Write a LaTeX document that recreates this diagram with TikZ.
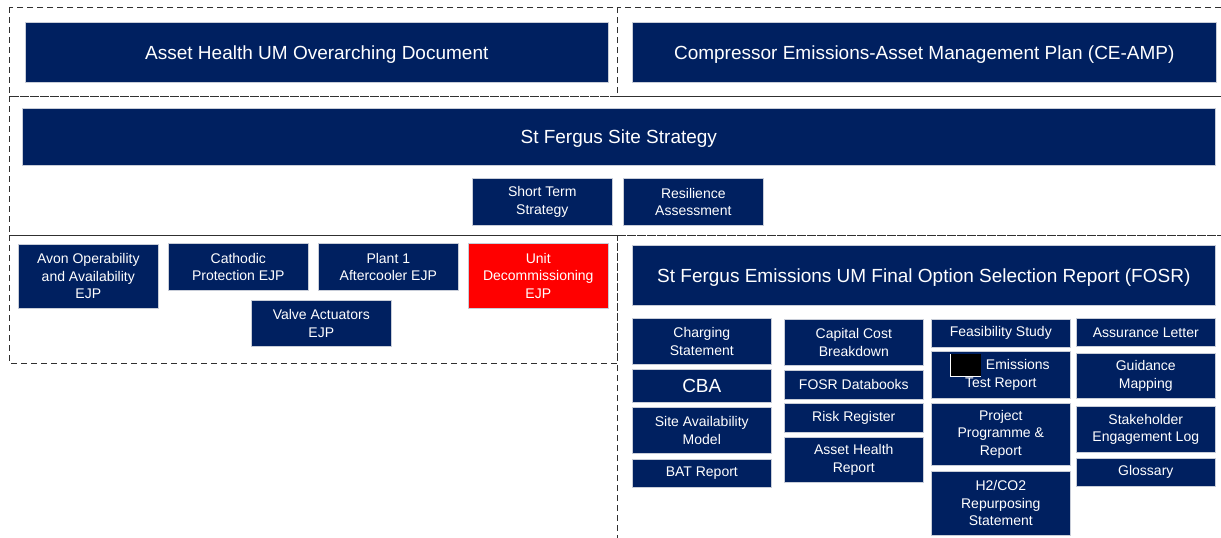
\documentclass[tikz,border=0pt]{standalone}
\usepackage{fontspec}
\setmainfont{Liberation Sans}
\definecolor{navy}{HTML}{002060}
\definecolor{redbox}{HTML}{FF0000}
\definecolor{edge}{HTML}{C8CDD8}
\definecolor{dashc}{HTML}{303030}
\tikzset{
  docbox/.style={rectangle, fill=navy, draw=edge, line width=0.6pt, text=white, align=center, inner sep=0pt,
    font=\fontsize{14}{17.5}\selectfont},
  bigbox/.style={docbox, text depth=0pt, font=\fontsize{19}{22}\selectfont},
  hotbox/.style={docbox, fill=redbox},
  region/.style={draw=dashc, line width=1pt, dash pattern=on 6pt off 4pt},
}
\newcommand\mkbox[7]{\node[#1, anchor=north west, minimum width={#5pt-#3pt}, minimum height={#6pt-#4pt}] (#2) at (#3,#4) {#7};}
\begin{document}
\begin{tikzpicture}[x=1pt,y=-1pt]
\useasboundingbox (0,0) rectangle (1221,538);
\fill[white] (0,0) rectangle (1221,538);
% dashed regions
\draw[region] (9,7) rectangle (617,96);
\draw[region] (617,7) rectangle (1230,96);
\draw[region] (9,96) rectangle (1230,235);
\draw[region] (9,235) rectangle (617,363);
\draw[region] (617,235) rectangle (1230,550);
% top row
\mkbox{bigbox}{ahum}{25}{22}{608}{82}{Asset Health UM Overarching Document}
\mkbox{bigbox}{ceamp}{632}{22}{1216}{82}{Compressor Emissions-Asset Management Plan (CE-AMP)}
% site strategy
\mkbox{bigbox}{site}{22}{108}{1215}{165}{St Fergus Site Strategy}
\mkbox{docbox}{short}{472}{178}{612}{225}{Short Term\\Strategy}
\mkbox{docbox}{resil}{623}{178}{763}{225}{Resilience\\Assessment}
% EJPs
\mkbox{docbox}{avon}{18}{244}{158}{308}{Avon Operability\\and Availability\\EJP}
\mkbox{docbox}{cath}{168}{243}{308}{290}{Cathodic\\Protection EJP}
\mkbox{docbox}{plant}{318}{243}{458}{290}{Plant 1\\Aftercooler EJP}
\mkbox{hotbox}{unit}{468}{243}{608}{308}{Unit\\Decommissioning\\EJP}
\mkbox{docbox}{valve}{251}{300}{391}{346}{Valve Actuators\\EJP}
% FOSR
\mkbox{bigbox}{fosr}{632}{245}{1215}{305}{St Fergus Emissions UM Final Option Selection Report (FOSR)}
% column 1
\mkbox{docbox}{charg}{632}{318}{771}{364}{Charging\\Statement}
\mkbox{bigbox}{cba}{632}{369}{771}{402}{CBA}
\mkbox{docbox}{sam}{632}{407}{771}{453}{Site Availability\\Model}
\mkbox{docbox}{bat}{632}{459}{771}{487}{BAT Report}
% column 2
\mkbox{docbox}{ccb}{784}{319}{923}{365}{Capital Cost\\Breakdown}
\mkbox{docbox}{dbk}{784}{370}{923}{399}{FOSR Databooks}
\mkbox{docbox}{risk}{784}{403}{923}{432}{Risk Register}
\mkbox{docbox}{ahr}{784}{437}{923}{482}{Asset Health\\Report}
% column 3
\mkbox{docbox}{feas}{931}{319}{1070}{347}{Feasibility Study}
\mkbox{docbox}{emis}{931}{351}{1070}{398}{\hspace*{34pt}Emissions\\Test Report}
\mkbox{docbox}{proj}{931}{403}{1070}{465}{Project\\Programme \&\\Report}
\mkbox{docbox}{htwo}{931}{471}{1070}{535}{H2/CO2\\Repurposing\\Statement}
% redaction
\fill[black] (950,354) rectangle (981,376);
\draw[white, line width=0.8pt] (950,354) -- (950,376) -- (981,376);
% column 4
\mkbox{docbox}{assur}{1076}{318}{1215}{346}{Assurance Letter}
\mkbox{docbox}{guid}{1076}{353}{1215}{398}{Guidance\\Mapping}
\mkbox{docbox}{stake}{1076}{406}{1215}{452}{Stakeholder\\Engagement Log}
\mkbox{docbox}{gloss}{1076}{458}{1215}{486}{Glossary}
\end{tikzpicture}
\end{document}
